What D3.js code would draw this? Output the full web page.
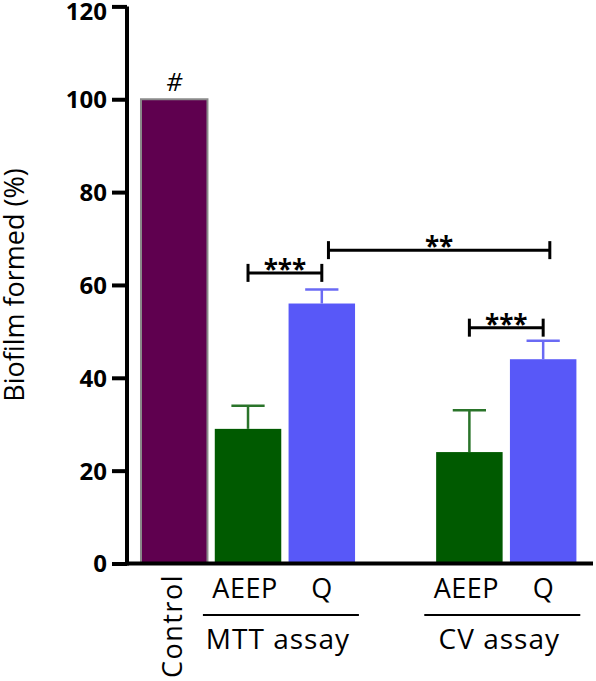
<!DOCTYPE html>
<html>
<head>
<meta charset="utf-8">
<script src="https://cdn.jsdelivr.net/npm/d3@7"></script>
<style>
  html, body { margin: 0; padding: 0; background: #fff; }
  svg { display: block; font-family: "Open Sans", "Noto Sans", sans-serif; }
</style>
</head>
<body>
<svg id="chart" width="596" height="681"></svg>
<script>
// ---- data ----
const slots = ["Control", "MTT AEEP", "MTT Q", "gap", "CV AEEP", "CV Q"];
const barKeys = ["Control", "MTT AEEP", "MTT Q", "CV AEEP", "CV Q"];
const barLabels = ["Control", "AEEP", "Q", "AEEP", "Q"];
const barValues = [100, 29, 56, 24, 44];
const barErrors = [0, 5, 3, 9, 4];
const barSeries = ["control", "AEEP", "Q", "AEEP", "Q"];
const groupNames = ["MTT assay", "CV assay"];
const groupMembers = [["MTT AEEP", "MTT Q"], ["CV AEEP", "CV Q"]];
const yTicks = [0, 20, 40, 60, 80, 100, 120];
const bracketFrom = ["MTT AEEP", "MTT Q", "CV AEEP"];
const bracketTo = ["MTT Q", "CV Q", "CV Q"];
const bracketLevel = [62.6, 67.5, 50.8];
const bracketText = ["***", "**", "***"];
const markText = "#";

// ---- styles ----
const fillColor = { control: "#5f004f", AEEP: "#005a00", Q: "#5858f8" };
const errColor = { control: "#888", AEEP: "#2a742a", Q: "#6a6af4" };

const svg = d3.select("#chart");
const x = d3.scaleBand().domain(slots).range([137.3, 580.1]).paddingInner(0.099).paddingOuter(0.05);
const y = d3.scaleLinear().domain([0, 120]).range([563.5, 6.4]);
const bw = x.bandwidth();

const bars = barKeys.map((k, i) => ({ key: k, label: barLabels[i], value: barValues[i], err: barErrors[i], series: barSeries[i] }));

// bars
svg.append("g").selectAll("rect").data(bars).join("rect")
  .attr("x", d => x(d.key))
  .attr("y", d => y(d.value))
  .attr("width", bw)
  .attr("height", d => y(0) - y(d.value))
  .attr("fill", d => fillColor[d.series])
  .attr("stroke", d => d.series === "control" ? "#8a8a8a" : "none")
  .attr("stroke-width", 2);

// error bars
const eb = svg.append("g").selectAll("g").data(bars.filter(d => d.err > 0)).join("g")
  .attr("stroke", d => errColor[d.series]).attr("stroke-width", 2.5);
eb.append("line")
  .attr("x1", d => x(d.key) + bw / 2).attr("x2", d => x(d.key) + bw / 2)
  .attr("y1", d => y(d.value)).attr("y2", d => y(d.value + d.err));
eb.append("line")
  .attr("x1", d => x(d.key) + bw / 2 - bw / 4).attr("x2", d => x(d.key) + bw / 2 + bw / 4)
  .attr("y1", d => y(d.value + d.err)).attr("y2", d => y(d.value + d.err));

// "#" mark above control
svg.append("text")
  .attr("x", x("Control") + bw / 2).attr("y", y(100) - 8)
  .attr("text-anchor", "middle").attr("font-size", 25).attr("fill", "#000")
  .style("font-style", "italic")
  .text(markText);

// axes
const yAxis = svg.append("g").attr("transform", `translate(${127},0)`)
  .call(d3.axisLeft(y).tickValues(yTicks).tickSize(15).tickPadding(5).tickSizeOuter(0));
yAxis.select(".domain").attr("stroke", "#000").attr("stroke-width", 4)
  .attr("d", `M0,${y(120)}V${y(0) + 2}`);
yAxis.selectAll(".tick line").attr("stroke", "#000").attr("stroke-width", 4);
yAxis.selectAll(".tick text").attr("font-size", 24).attr("font-weight", "bold")
  .attr("font-family", "'Open Sans', sans-serif").attr("fill", "#000")
  .attr("dy", d => d === 120 ? "0.55em" : "0.35em");

svg.append("line")
  .attr("x1", 125).attr("x2", 593)
  .attr("y1", y(0)).attr("y2", y(0))
  .attr("stroke", "#000").attr("stroke-width", 4);

// y title
svg.append("text")
  .attr("transform", `translate(24,${285}) rotate(-90)`)
  .attr("text-anchor", "middle").attr("font-size", 27).attr("fill", "#000")
  .text("Biofilm formed (%)");

// x labels
bars.forEach(d => {
  if (d.series === "control") {
    svg.append("text")
      .attr("transform", `translate(${x(d.key) + bw / 2 + 8},${574}) rotate(-90)`)
      .attr("text-anchor", "end").attr("font-size", 27).attr("fill", "#000")
      .attr("letter-spacing", 1.5)
      .text(d.label);
  } else {
    svg.append("text")
      .attr("x", x(d.key) + bw / 2 - (d.label === "AEEP" ? 3 : 0)).attr("y", 598)
      .attr("text-anchor", "middle").attr("font-size", 27).attr("fill", "#000")
      .attr("letter-spacing", d.label === "AEEP" ? 0.5 : 0)
      .text(d.label);
  }
});

// group underlines and names
groupNames.forEach((g, i) => {
  const m = groupMembers[i];
  const x0 = x(m[0]), x1 = x(m[m.length - 1]) + bw;
  const c = (x0 + x1) / 2 - 4;
  svg.append("line").attr("x1", c - 78).attr("x2", c + 78)
    .attr("y1", 615).attr("y2", 615).attr("stroke", "#000").attr("stroke-width", 2);
  svg.append("text").attr("x", c - 3).attr("y", 649)
    .attr("text-anchor", "middle").attr("font-size", 28).attr("fill", "#000")
    .attr("letter-spacing", 1)
    .text(g);
});

// significance brackets
bracketFrom.forEach((f, i) => {
  const t = bracketTo[i];
  const span = slots.indexOf(t) - slots.indexOf(f);
  const nudge = span > 1 ? bw * 0.1 : 0;
  const xa = x(f) + bw / 2 + nudge, xb = x(t) + bw / 2 + nudge;
  const yy = y(bracketLevel[i]);
  const g = svg.append("g").attr("stroke", "#000").attr("stroke-width", 3);
  g.append("line").attr("x1", xa).attr("x2", xb).attr("y1", yy).attr("y2", yy);
  g.append("line").attr("x1", xa).attr("x2", xa).attr("y1", yy - 9).attr("y2", yy + 9);
  g.append("line").attr("x1", xb).attr("x2", xb).attr("y1", yy - 9).attr("y2", yy + 9);
  svg.append("text").attr("x", (xa + xb) / 2).attr("y", yy + 6)
    .attr("text-anchor", "middle").attr("font-size", 26).attr("font-weight", "bold")
    .attr("fill", "#000").text(bracketText[i]);
});
</script>
</body>
</html>
